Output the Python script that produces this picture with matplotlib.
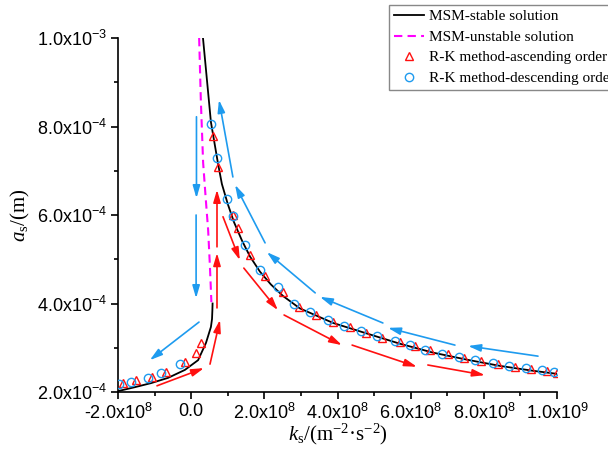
import matplotlib
matplotlib.use("Agg")
import matplotlib.pyplot as plt
from matplotlib.ticker import FixedLocator
from matplotlib.lines import Line2D

###################### Data ######################
# MSM stable solution, upper branch
upK = [3.23e7, 5.4e7, 7.3e7, 8.4e7, 1.0e8, 1.17e8, 1.39e8, 1.61e8, 1.88e8, 2.18e8, 2.51e8,
       2.97e8, 3.88e8, 4.81e8, 5.71e8, 6.61e8, 7.54e8, 8.44e8, 9.34e8, 1.0e9]
upA = [1.0e-3, 8.1e-4, 7.18e-4, 6.7e-4, 6.25e-4, 5.84e-4, 5.42e-4, 5.06e-4, 4.72e-4, 4.43e-4, 4.17e-4,
       3.89e-4, 3.56e-4, 3.32e-4, 3.09e-4, 2.89e-4, 2.73e-4, 2.59e-4, 2.48e-4, 2.41e-4]
# MSM stable solution, lower branch
lowK = [-2e8, -1.535e8, -1.10e8, -6.3e7, -1.7e7, 1.9e7, 4.05e7, 5.4e7, 5.7e7, 5.8e7, 5.85e7]
lowA = [2.02e-4, 2.11e-4, 2.20e-4, 2.32e-4, 2.50e-4, 2.72e-4, 3.11e-4, 3.47e-4, 3.65e-4, 3.85e-4, 4.0e-4]
# MSM unstable solution
unK = [2.18e7, 2.64e7, 3.27e7, 4.01e7, 4.64e7, 5.11e7, 5.53e7]
unA = [1.0e-3, 8.6e-4, 7.18e-4, 6.34e-4, 5.66e-4, 4.87e-4, 4.03e-4]

# R-K ascending order (triangles)
triK = [-1.85e8, -1.51e8, -1.08e8, -6.9e7, -1.8e7, 1.3e7, 2.7e7,
        6.0e7, 7.3e7, 1.13e8, 1.27e8, 1.62e8, 2.03e8, 2.50e8, 2.96e8, 3.40e8, 3.87e8, 4.33e8, 4.77e8,
        5.23e8, 5.70e8, 6.13e8, 6.54e8, 7.01e8, 7.47e8, 7.91e8, 8.38e8, 8.84e8, 9.28e8, 9.74e8, 1.0e9]
triA = [2.21e-4, 2.26e-4, 2.34e-4, 2.46e-4, 2.67e-4, 2.88e-4, 3.11e-4,
        7.79e-4, 7.09e-4, 6.00e-4, 5.71e-4, 5.10e-4, 4.62e-4, 4.25e-4, 3.92e-4, 3.75e-4, 3.58e-4, 3.46e-4, 3.34e-4,
        3.23e-4, 3.12e-4, 3.03e-4, 2.94e-4, 2.85e-4, 2.77e-4, 2.70e-4, 2.63e-4, 2.57e-4, 2.52e-4, 2.47e-4, 2.44e-4]
# R-K descending order (circles)
cirK = [-1.97e8, -1.64e8, -1.18e8, -8.2e7, -3.0e7,
        5.42e7, 7.06e7, 0.99e8, 1.13e8, 1.48e8, 1.89e8, 2.36e8, 2.82e8, 3.26e8, 3.73e8, 4.19e8, 4.63e8,
        5.09e8, 5.56e8, 5.99e8, 6.40e8, 6.87e8, 7.33e8, 7.77e8, 8.24e8, 8.70e8, 9.14e8, 9.60e8, 9.93e8]
cirA = [2.19e-4, 2.23e-4, 2.32e-4, 2.43e-4, 2.63e-4,
        8.06e-4, 7.29e-4, 6.36e-4, 5.97e-4, 5.32e-4, 4.76e-4, 4.37e-4, 4.00e-4, 3.81e-4, 3.62e-4, 3.50e-4, 3.38e-4,
        3.27e-4, 3.16e-4, 3.06e-4, 2.96e-4, 2.87e-4, 2.79e-4, 2.72e-4, 2.65e-4, 2.59e-4, 2.54e-4, 2.49e-4, 2.46e-4]

# direction arrows: ((tail k, tail a), (head k, head a))
blueArrows = [((1.45e7, 8.22e-4), (1.45e7, 6.38e-4)),
              ((1.35e7, 6.0e-4), (1.35e7, 4.12e-4)),
              ((2.14e7, 3.58e-4), (-1.13e8, 2.72e-4)),
              ((1.14e8, 6.86e-4), (7.6e7, 8.6e-4)),
              ((2.02e8, 5.37e-4), (1.2e8, 6.68e-4)),
              ((3.39e8, 4.24e-4), (2.07e8, 5.16e-4)),
              ((5.24e8, 3.56e-4), (3.52e8, 4.15e-4)),
              ((7.21e8, 3.06e-4), (5.38e8, 3.45e-4)),
              ((9.48e8, 2.81e-4), (7.57e8, 3.04e-4))]
redArrows = [((-9.34e7, 2.14e-4), (3.5e7, 2.54e-4)),
             ((5.15e7, 2.63e-4), (7.88e7, 3.63e-4)),
             ((7.06e7, 3.90e-4), (7.06e7, 5.14e-4)),
             ((7.06e7, 5.28e-4), (7.06e7, 6.57e-4)),
             ((8.7e7, 5.96e-4), (1.33e8, 4.98e-4)),
             ((1.44e8, 4.80e-4), (2.37e8, 3.85e-4)),
             ((2.54e8, 3.74e-4), (4.12e8, 3.06e-4)),
             ((4.40e8, 3.06e-4), (6.17e8, 2.57e-4)),
             ((6.47e8, 2.61e-4), (8.03e8, 2.38e-4))]

xTicks = [-2e8, 0, 2e8, 4e8, 6e8, 8e8, 1e9]
xLabels = ['-2.0x10$^{8}$', '0.0', '2.0x10$^{8}$', '4.0x10$^{8}$', '6.0x10$^{8}$', '8.0x10$^{8}$', '1.0x10$^{9}$']
yTicks = [2e-4, 4e-4, 6e-4, 8e-4, 1e-3]
yLabels = ['2.0x10$^{-4}$', '4.0x10$^{-4}$', '6.0x10$^{-4}$', '8.0x10$^{-4}$', '1.0x10$^{-3}$']
legendLabels = ['MSM-stable solution', 'MSM-unstable solution',
                'R-K method-ascending order', 'R-K method-descending order']
##################################################

RED = '#FF1010'
BLUE = '#1E9BEF'
MAGENTA = '#FF00FF'

plt.rcParams['font.family'] = 'Liberation Sans'
plt.rcParams['mathtext.fontset'] = 'custom'
plt.rcParams['mathtext.it'] = 'Liberation Serif:italic'
plt.rcParams['mathtext.rm'] = 'Liberation Serif'
plt.rcParams['mathtext.default'] = 'regular'

fig = plt.figure(figsize=(6.08, 4.58), dpi=100)
ax = fig.add_axes([118/608, 1-392/458, 439/608, 354/458])

ax.plot(upK, upA, color='black', lw=1.3, zorder=3)
ax.plot(lowK, lowA, color='black', lw=1.3, zorder=3)
ax.plot(unK, unA, color=MAGENTA, lw=1.5, dashes=(4, 2.5), zorder=3)
ax.plot(triK, triA, ls='none', marker='^', ms=6, mfc='none', mec=RED, mew=1.0, zorder=4)
ax.plot(cirK, cirA, ls='none', marker='o', ms=6, mfc='none', mec=BLUE, mew=1.0, zorder=4)

for arrows, col in ((blueArrows, BLUE), (redArrows, RED)):
    for tail, head in arrows:
        ax.annotate('', xy=head, xytext=tail,
                    arrowprops=dict(arrowstyle='-|>,head_length=0.75,head_width=0.22',
                                    color=col, lw=1.2, shrinkA=0, shrinkB=0, mutation_scale=10))

ax.set_xlim(-2e8, 1e9)
ax.set_ylim(2e-4, 1e-3)
ax.xaxis.set_major_locator(FixedLocator(xTicks))
ax.xaxis.set_minor_locator(FixedLocator([-1e8, 1e8, 3e8, 5e8, 7e8, 9e8]))
ax.yaxis.set_major_locator(FixedLocator(yTicks))
ax.yaxis.set_minor_locator(FixedLocator([3e-4, 5e-4, 7e-4, 9e-4]))
ax.set_xticklabels(xLabels)
ax.set_yticklabels(yLabels)

ax.spines['top'].set_visible(False)
ax.spines['right'].set_visible(False)
for s in ('left', 'bottom'):
    ax.spines[s].set_linewidth(1.2)
ax.tick_params(which='major', direction='out', length=5, width=1.2, labelsize=13, pad=3)
ax.tick_params(which='minor', direction='out', length=3, width=1.2)

ax.set_xlabel(r'$\mathit{k}_{s}$/(m$^{-2}$·s$^{-2}$)', fontfamily='Liberation Serif', fontsize=15)
ax.xaxis.set_label_coords(0.5, -0.085)
ax.set_ylabel(r'$\mathit{a}_{s}$/(m)', fontfamily='Liberation Serif', fontsize=15)
ax.yaxis.set_label_coords(-0.195, 0.5)

handles = [Line2D([], [], color='black', lw=1.3),
           Line2D([], [], color=MAGENTA, lw=1.5, dashes=(4, 2.5)),
           Line2D([], [], ls='none', marker='^', ms=6, mfc='none', mec=RED, mew=1.0),
           Line2D([], [], ls='none', marker='o', ms=6, mfc='none', mec=BLUE, mew=1.0)]
leg = ax.legend(handles, legendLabels, loc='upper left', bbox_to_anchor=(389/608, 1-5/458),
                bbox_transform=fig.transFigure, prop={'family': 'Liberation Serif', 'size': 11},
                frameon=True, fancybox=False, framealpha=1, edgecolor='#888888',
                borderpad=0.3, handlelength=2.0, handletextpad=0.3, labelspacing=0.45,
                borderaxespad=0, numpoints=1)
leg.get_frame().set_linewidth(1.0)

fig.savefig('out.png', dpi=100)
